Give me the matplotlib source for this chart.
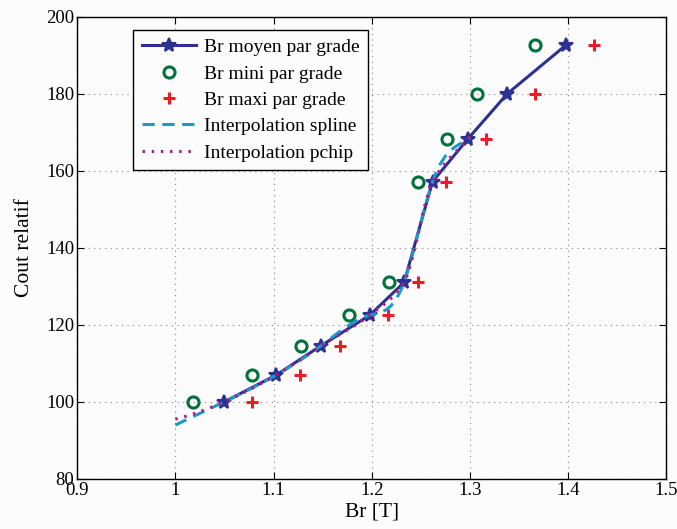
import numpy as np
import matplotlib
matplotlib.use("Agg")
import matplotlib.pyplot as plt

# données
br_moyen = [1.05, 1.103, 1.148, 1.198, 1.233, 1.262, 1.298, 1.338, 1.398]
cout = [100.0, 107.0, 114.5, 122.5, 131.0, 157.2, 168.3, 180.0, 192.7]
br_mini = [1.018, 1.078, 1.128, 1.177, 1.218, 1.247, 1.277, 1.307, 1.366]
br_maxi = [1.078, 1.127, 1.168, 1.217, 1.247, 1.276, 1.316, 1.366, 1.426]
x_interp = np.arange(1.0, 1.3 + 1e-9, 0.005)


def spline_nak(x, y, xq):
    # spline cubique "not-a-knot" (comme spline de matlab)
    x = np.asarray(x); y = np.asarray(y)
    n = len(x)
    h = np.diff(x)
    d = np.diff(y) / h
    A = np.zeros((n, n)); b = np.zeros(n)
    A[0, 0], A[0, 1], A[0, 2] = h[1], -(h[0] + h[1]), h[0]
    A[-1, -3], A[-1, -2], A[-1, -1] = h[-1], -(h[-2] + h[-1]), h[-2]
    for i in range(1, n - 1):
        A[i, i - 1] = h[i - 1]
        A[i, i] = 2 * (h[i - 1] + h[i])
        A[i, i + 1] = h[i]
        b[i] = 6 * (d[i] - d[i - 1])
    M = np.linalg.solve(A, b)
    k = np.clip(np.searchsorted(x, xq) - 1, 0, n - 2)
    hk = h[k]
    a = x[k + 1] - xq
    c = xq - x[k]
    return (M[k] * a**3 / (6 * hk) + M[k + 1] * c**3 / (6 * hk)
            + (y[k] / hk - M[k] * hk / 6) * a + (y[k + 1] / hk - M[k + 1] * hk / 6) * c)


def pchip(x, y, xq):
    x = np.asarray(x); y = np.asarray(y)
    n = len(x)
    h = np.diff(x)
    d = np.diff(y) / h
    m = np.zeros(n)
    for k in range(1, n - 1):
        if d[k - 1] * d[k] > 0:
            w1 = 2 * h[k] + h[k - 1]
            w2 = h[k] + 2 * h[k - 1]
            m[k] = (w1 + w2) / (w1 / d[k - 1] + w2 / d[k])

    def end_slope(h0, h1, d0, d1):
        s = ((2 * h0 + h1) * d0 - h0 * d1) / (h0 + h1)
        if np.sign(s) != np.sign(d0):
            s = 0.0
        elif np.sign(d0) != np.sign(d1) and abs(s) > abs(3 * d0):
            s = 3 * d0
        return s
    m[0] = end_slope(h[0], h[1], d[0], d[1])
    m[-1] = end_slope(h[-1], h[-2], d[-1], d[-2])
    k = np.clip(np.searchsorted(x, xq) - 1, 0, n - 2)
    t = (xq - x[k]) / h[k]
    h00 = 2 * t**3 - 3 * t**2 + 1
    h10 = t**3 - 2 * t**2 + t
    h01 = -2 * t**3 + 3 * t**2
    h11 = t**3 - t**2
    return h00 * y[k] + h10 * h[k] * m[k] + h01 * y[k + 1] + h11 * h[k] * m[k + 1]


plt.rcParams['font.family'] = ['Liberation Serif', 'DejaVu Serif']

fig = plt.figure(figsize=(6.77, 5.29), dpi=100)
fig.patch.set_facecolor('#fcfcfc')
ax = fig.add_axes([0.114, 0.095, 0.870, 0.873])

ax.plot(br_moyen, cout, color='#2e3192', lw=2.2, marker='*', ms=10, mew=1.5,
        label='Br moyen par grade')
ax.plot(br_mini, cout, ls='none', marker='o', ms=8, mfc='none', mec='#00703c',
        mew=2.2, label='Br mini par grade')
ax.plot(br_maxi, cout, ls='none', marker='+', ms=9, mec='#ed1c24', mew=2.2,
        label='Br maxi par grade')
ax.plot(x_interp, spline_nak(br_moyen, cout, x_interp), color='#1b9ac9', lw=2.2,
        ls=(0, (4, 2.5)), label='Interpolation spline')
ax.plot(x_interp, pchip(br_moyen, cout, x_interp), color='#b5197d', lw=2.2,
        ls=(0, (0.8, 2.2)), label='Interpolation pchip')

ax.set_xlim(0.9, 1.5)
ax.set_ylim(80, 200)
ax.set_xticks(np.arange(0.9, 1.51, 0.1))
ax.set_xticklabels(['0.9', '1', '1.1', '1.2', '1.3', '1.4', '1.5'])
ax.set_yticks(np.arange(80, 201, 20))
ax.tick_params(direction='in', top=True, right=True, labelsize=13.5, length=5, pad=2)
ax.grid(True, ls=(0, (1, 4)), color='#888888', lw=0.8)
ax.set_facecolor('#fcfcfc')
for s in ax.spines.values():
    s.set_linewidth(1.0)

ax.set_xlabel('Br [T]', fontsize=15.5, labelpad=3)
ax.set_ylabel('Cout relatif', fontsize=15.5, labelpad=9)

leg = ax.legend(loc='upper left', bbox_to_anchor=(0.095, 0.972), fontsize=14,
                fancybox=False, edgecolor='black', framealpha=1, facecolor='#fcfcfc',
                handlelength=2.8, borderpad=0.45, labelspacing=0.45, handletextpad=0.4,
                borderaxespad=0)
leg.get_frame().set_linewidth(1.0)

fig.savefig('out.png', dpi=100, facecolor=fig.get_facecolor())
